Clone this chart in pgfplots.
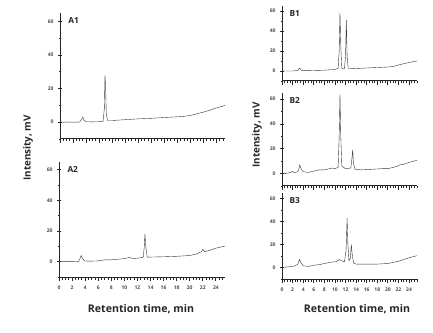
\documentclass[border=0pt]{standalone}
\usepackage{pgfplots}
\pgfplotsset{compat=1.18}
\usepackage{fontspec}
\setmainfont{Open Sans}
\definecolor{lc}{gray}{0.2}
\tikzset{plabel/.style={font=\fontsize{8.3}{9}\selectfont\bfseries, text=black!85, anchor=north west}}
\newcommand{\axlines}{\draw[black!85, line width=1pt] (rel axis cs:1,0) -- (rel axis cs:0,0) -- (rel axis cs:0,1);}
\pgfplotsset{
  chrom/.style={
    scale only axis,
    axis x line*=bottom, axis y line*=left,
    every outer x axis line/.style={black!85, line width=1pt},
    every outer y axis line/.style={black!85, line width=1pt},
    xmin=0, ymin=-10, ymax=65,
    xtick distance=2, minor xtick={0,0.5,...,25.5},
    ytick={0,20,40,60}, minor ytick={-10,10,30,50},
    xtick align=outside, ytick align=center,
    major tick length=4pt, minor tick length=2.5pt,
    every tick/.style={black!85, line width=0.8pt},
    tick label style={font=\fontsize{5}{6}\selectfont\bfseries, text=black!70},
    /pgf/number format/assume math mode=true,
    yticklabel style={xshift=-1pt},
    xticklabel style={yshift=-1pt},
    cycle list={{lc, line width=0.8pt, line join=round, no markers}},
    clip=false,
  },
}
\begin{document}
\begin{tikzpicture}
\useasboundingbox (0pt,0pt) rectangle (433pt,332pt);
% ---------- A1 ----------
\begin{axis}[chrom, at={(60pt,193pt)}, anchor=south west, width=165pt, height=126pt, xmax=25.3, xticklabels={}]
\addplot coordinates {(0,0)(1,0)(2,0)(3,0.1)(3.3,1.5)(3.5,3)(3.7,1.2)(4,0.3)(5,0.2)(6,0.3)(6.6,0.5)(6.8,8)(6.9,28)(7.0,20)(7.1,5)(7.3,1.0)(8,1.0)(10,1.5)(12,2)(14,2.3)(16,2.8)(18,3.2)(19,3.5)(20,4.0)(21,5)(22,6)(23,7.2)(24,8.5)(25,9.6)(25.3,10)};
\axlines
\node[plabel] at (rel axis cs:0.03,0.99) {A1};
\end{axis}
% ---------- A2 ----------
\begin{axis}[chrom, at={(59pt,55pt)}, anchor=south west, width=166pt, height=115pt, xmax=25.4]
\addplot coordinates {(0,0)(2,0)(3,0.2)(3.2,2)(3.4,4)(3.6,2)(3.9,0.5)(4.5,0.3)(6,0.5)(7,1.2)(8,1.2)(10,2)(10.8,2.8)(11.3,2)(12.5,2.5)(12.9,3)(13.05,10)(13.15,18)(13.3,9)(13.5,3)(14,3)(16,3.2)(18,3.5)(20,4)(21,5)(21.8,6.5)(22,8)(22.3,6.5)(23,7.3)(24,8.8)(25,9.8)(25.4,10.2)};
\axlines
\node[plabel] at (rel axis cs:0.03,0.99) {A2};
\end{axis}
% ---------- B1 ----------
\begin{axis}[chrom, at={(282pt,251pt)}, anchor=south west, width=135pt, height=75pt, xmax=25.5, xticklabels={}]
\addplot coordinates {(0,0)(2,0)(3,0.5)(3.3,3)(3.6,1)(4,0.3)(6,0.5)(8,0.8)(10,1.5)(10.6,2.5)(10.8,20)(10.95,58)(11.1,25)(11.3,2.5)(11.8,2)(12.0,15)(12.15,51)(12.3,15)(12.5,2.8)(14,2.5)(16,3)(18,3.5)(20,4)(21,4.5)(22,6)(23,7.3)(24,8.5)(25,9.6)(25.5,10)};
\axlines
\node[plabel] at (rel axis cs:0.03,0.99) {B1};
\end{axis}
% ---------- B2 ----------
\begin{axis}[chrom, at={(282pt,146pt)}, anchor=south west, width=135pt, height=93pt, xmax=25.5, xticklabels={}]
\addplot coordinates {(0,0)(1,0.3)(1.7,1)(2.0,1.8)(2.3,0.8)(3,1.5)(3.2,4)(3.35,7)(3.6,4)(4,1.5)(5,1)(6,2)(7,3)(8,3)(9,4)(9.5,4.5)(10,4)(10.6,5)(10.8,30)(10.95,64)(11.1,30)(11.3,6)(12,4)(13,4.5)(13.2,12)(13.35,19)(13.5,8)(13.8,3.5)(15,3)(17,3.5)(19,4)(20,4)(21,5)(21.8,6)(22.2,7)(23,7.5)(24,9)(25,10.2)(25.5,10.6)};
\axlines
\node[plabel] at (rel axis cs:0.03,0.99) {B2};
\end{axis}
% ---------- B3 ----------
\begin{axis}[chrom, at={(282pt,53pt)}, anchor=south west, width=135pt, height=86pt, xmax=25.5]
\addplot coordinates {(0,0)(1,0.5)(2,1)(2.5,1.5)(3,3)(3.3,7)(3.6,4)(4,1.5)(5,1)(6,2)(7,2.5)(8,3.5)(9,4.5)(9.8,5)(10.3,5)(10.8,7)(11.2,6)(11.8,5)(12.1,15)(12.3,43)(12.45,20)(12.65,6)(12.9,8)(13.1,20)(13.25,12)(13.5,4)(14,3)(16,3)(18,3)(20,3.5)(21,4.5)(22,5.5)(23,7)(24,8.5)(25,9.8)(25.5,10.3)};
\axlines
\node[plabel] at (rel axis cs:0.03,0.99) {B3};
\end{axis}
% ---------- shared labels ----------
\node[font=\fontsize{10.6}{12}\selectfont\bfseries, text=black!85] at (141pt,23pt) {Retention time, min};
\node[font=\fontsize{10.6}{12}\selectfont\bfseries, text=black!85] at (357pt,23pt) {Retention time, min};
\node[font=\fontsize{9.8}{11}\selectfont\bfseries, text=black!85, rotate=90] at (28pt,184pt) {Intensity, mV};
\node[font=\fontsize{9.8}{11}\selectfont\bfseries, text=black!85, rotate=90] at (257pt,197pt) {Intensity, mV};
\end{tikzpicture}
\end{document}
